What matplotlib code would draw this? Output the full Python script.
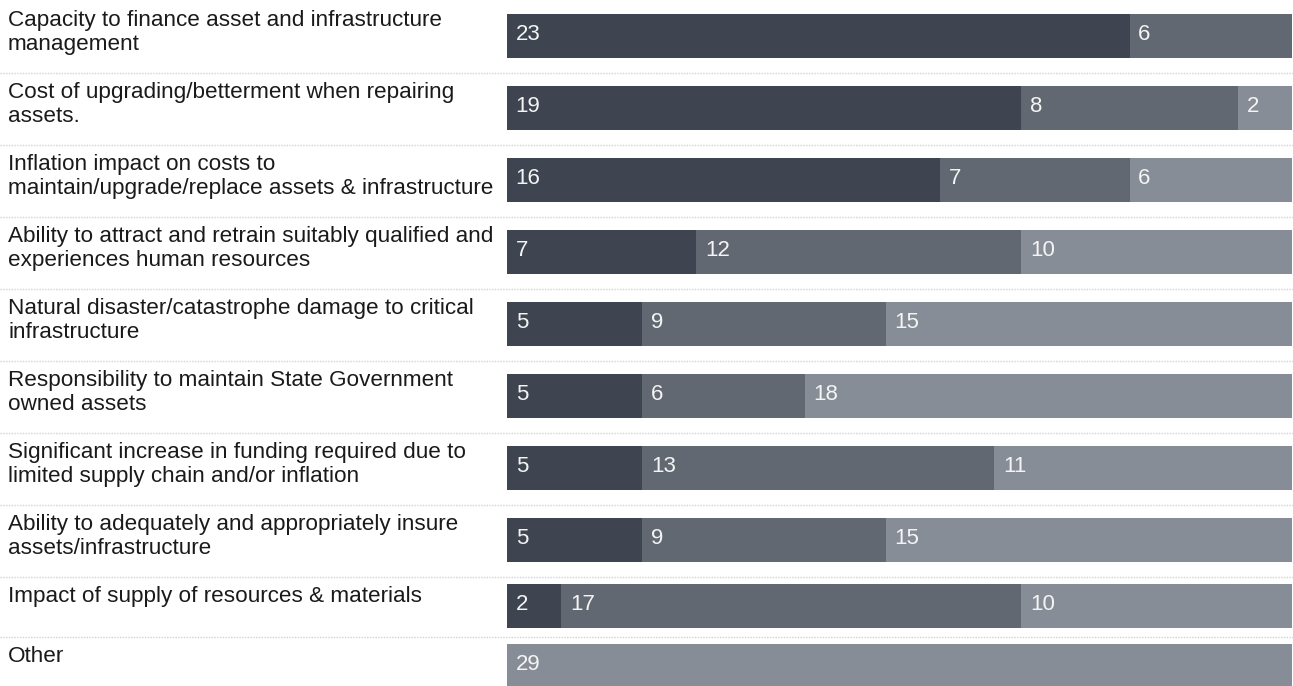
import numpy as np
import matplotlib
matplotlib.use('Agg')
import matplotlib.pyplot as plt
import matplotlib.transforms as mtransforms

plt.rcParams['font.family'] = ['Liberation Sans', 'DejaVu Sans']

categories = [
    'Capacity to finance asset and infrastructure\nmanagement',
    'Cost of upgrading/betterment when repairing\nassets.',
    'Inflation impact on costs to\nmaintain/upgrade/replace assets & infrastructure',
    'Ability to attract and retrain suitably qualified and\nexperiences human resources',
    'Natural disaster/catastrophe damage to critical\ninfrastructure',
    'Responsibility to maintain State Government\nowned assets',
    'Significant increase in funding required due to\nlimited supply chain and/or inflation',
    'Ability to adequately and appropriately insure\nassets/infrastructure',
    'Impact of supply of resources & materials',
    'Other',
]
series_a = [23, 19, 16, 7, 5, 5, 5, 5, 2, 0]
series_b = [6, 8, 7, 12, 9, 6, 13, 9, 17, 0]
series_c = [0, 2, 6, 10, 15, 18, 11, 15, 10, 29]

colors = ['#3e4550', '#616871', '#878d96']

W, H = 1293, 686
fig = plt.figure(figsize=(W / 100, H / 100), dpi=100)
ax = fig.add_axes([507 / W, 0, 785 / W, 1])

# row layout in pixel units: two-line labels get taller rows
row_h = np.array([72 if '\n' in c else 60 for c in categories], dtype=float)
row_top = np.concatenate([[0], np.cumsum(row_h)[:-1]])
centers = row_top + row_h / 2

left = np.zeros(len(categories))
for vals, col in zip([series_a, series_b, series_c], colors):
    vals = np.array(vals, dtype=float)
    ax.barh(centers, vals, left=left, height=44, color=col, linewidth=0)
    for y, l, v in zip(centers, left, vals):
        if v > 0:
            ax.text(l + 0.32, y - 2, f'{int(v)}', color='#f4f4f4', fontsize=16,
                    va='center', ha='left')
    left += vals

ax.set_xlim(0, 29)
ax.set_ylim(H, 0)
ax.axis('off')

trans = mtransforms.blended_transform_factory(fig.transFigure, ax.transData)
for cat, top in zip(categories, row_top):
    ax.text(8 / W, top + 10, cat, transform=trans, fontsize=16.2, color='#1a1a1a',
            va='top', ha='left', linespacing=1.2)

for sep in (row_top[1:] + 0.5):
    ax.plot([0, 1], [sep, sep], transform=trans, color='#d2d2d2', lw=1,
            ls=(0, (1, 1)), clip_on=False)

fig.savefig('out.png', dpi=100)
